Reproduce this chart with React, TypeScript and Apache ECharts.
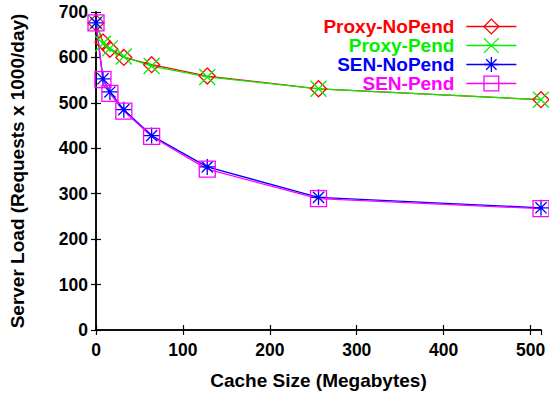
import React, { useEffect, useRef } from "react";
import * as echarts from "echarts";

const cacheSizes = [0, 8, 16, 32, 64, 128, 256, 512];
const proxyNoPend = [676, 634, 618, 600, 584, 559, 531, 507];
const proxyPend = [676, 630, 620, 602, 581, 557, 531, 507];
const senNoPend = [676, 553, 524, 485, 428, 359, 292, 269];
const senPend = [676, 551, 521, 482, 426, 354, 289, 267];

const seriesNames = ["Proxy-NoPend", "Proxy-Pend", "SEN-NoPend", "SEN-Pend"];
const seriesColors = ["#ff0000", "#00f000", "#0000ff", "#ff00ff"];
const seriesSymbols = [
  "path://M5,0L10,5L5,10L0,5Z",
  "path://M0,0L10,10M10,0L0,10",
  "path://M0,5L10,5M5,0L5,10M1.5,1.5L8.5,8.5M8.5,1.5L1.5,8.5",
  "path://M0,0L10,0L10,10L0,10Z",
];
const seriesValues = [proxyNoPend, proxyPend, senNoPend, senPend];

const FONT = "'Liberation Sans', Arial, Helvetica, sans-serif";

export default function App() {
  const ref = useRef<HTMLDivElement>(null);
  useEffect(() => {
    if (!ref.current) return;
    const chart = echarts.init(ref.current, null, { renderer: "svg" });
    const axisLine = { show: true, lineStyle: { color: "#000", width: 1.5 } };
    const axisTick = { show: true, inside: true, length: 5, lineStyle: { color: "#000", width: 1.2 } };
    const tickLabel = { fontFamily: FONT, fontWeight: "bold" as const, fontSize: 17.5, color: "#000" };
    const option: any = {
      animation: false,
      backgroundColor: "#fff",
      grid: { left: 96, right: 8, top: 12, bottom: 62, containLabel: false },
      legend: {
        orient: "vertical",
        right: 27,
        top: 12,
        align: "right",
        itemWidth: 50,
        itemHeight: 18.5,
        itemGap: 0,
        selectedMode: false,
        lineStyle: { width: 1.3 },
        itemStyle: { borderWidth: 1.3 },
        textStyle: { fontFamily: FONT, fontWeight: "bold", fontSize: 19, padding: [0, 7, 0, 0] },
        data: seriesNames.map((n, i) => ({ name: n, textStyle: { color: seriesColors[i] } })),
      },
      xAxis: [
        {
          type: "value",
          min: 0,
          max: 512,
          interval: 100,
          position: "bottom",
          axisLine,
          axisTick,
          splitLine: { show: false },
          axisLabel: {
            ...tickLabel,
            margin: 11,
            showMaxLabel: false,
            formatter: (v: number) => (v % 100 === 0 ? String(v) : ""),
          },
          name: "Cache Size (Megabytes)",
          nameLocation: "middle",
          nameGap: 41,
          nameTextStyle: { fontFamily: FONT, fontWeight: "bold", fontSize: 19, color: "#000" },
        },
        {
          type: "value",
          min: 0,
          max: 512,
          interval: 100,
          position: "top",
          axisLine,
          axisTick,
          splitLine: { show: false },
          axisLabel: { show: false },
        },
      ],
      yAxis: [
        {
          type: "value",
          min: 0,
          max: 700,
          interval: 100,
          position: "left",
          axisLine,
          axisTick,
          splitLine: { show: false },
          axisLabel: { ...tickLabel, margin: 8 },
          name: "Server Load (Requests x 1000/day)",
          nameLocation: "middle",
          nameGap: 69,
          nameTextStyle: { fontFamily: FONT, fontWeight: "bold", fontSize: 19, color: "#000" },
        },
        {
          type: "value",
          min: 0,
          max: 700,
          interval: 100,
          position: "right",
          axisLine,
          axisTick,
          splitLine: { show: false },
          axisLabel: { show: false },
        },
      ],
      series: seriesNames.map((n, i) => ({
        name: n,
        type: "line",
        xAxisIndex: 0,
        yAxisIndex: 0,
        data: cacheSizes.map((x, j) => [x, seriesValues[i][j]]),
        symbol: seriesSymbols[i],
        symbolSize: 16,
        showAllSymbol: true,
        lineStyle: { color: seriesColors[i], width: 1.3 },
        itemStyle: { color: "rgba(0,0,0,0)", borderColor: seriesColors[i], borderWidth: 1.3 },
        emphasis: { disabled: true },
      })),
    };
    chart.setOption(option);
    return () => chart.dispose();
  }, []);
  return (
    <div
      ref={ref}
      style={{ position: "fixed", left: 0, top: 0, width: 549, height: 395 }}
    />
  );
}
